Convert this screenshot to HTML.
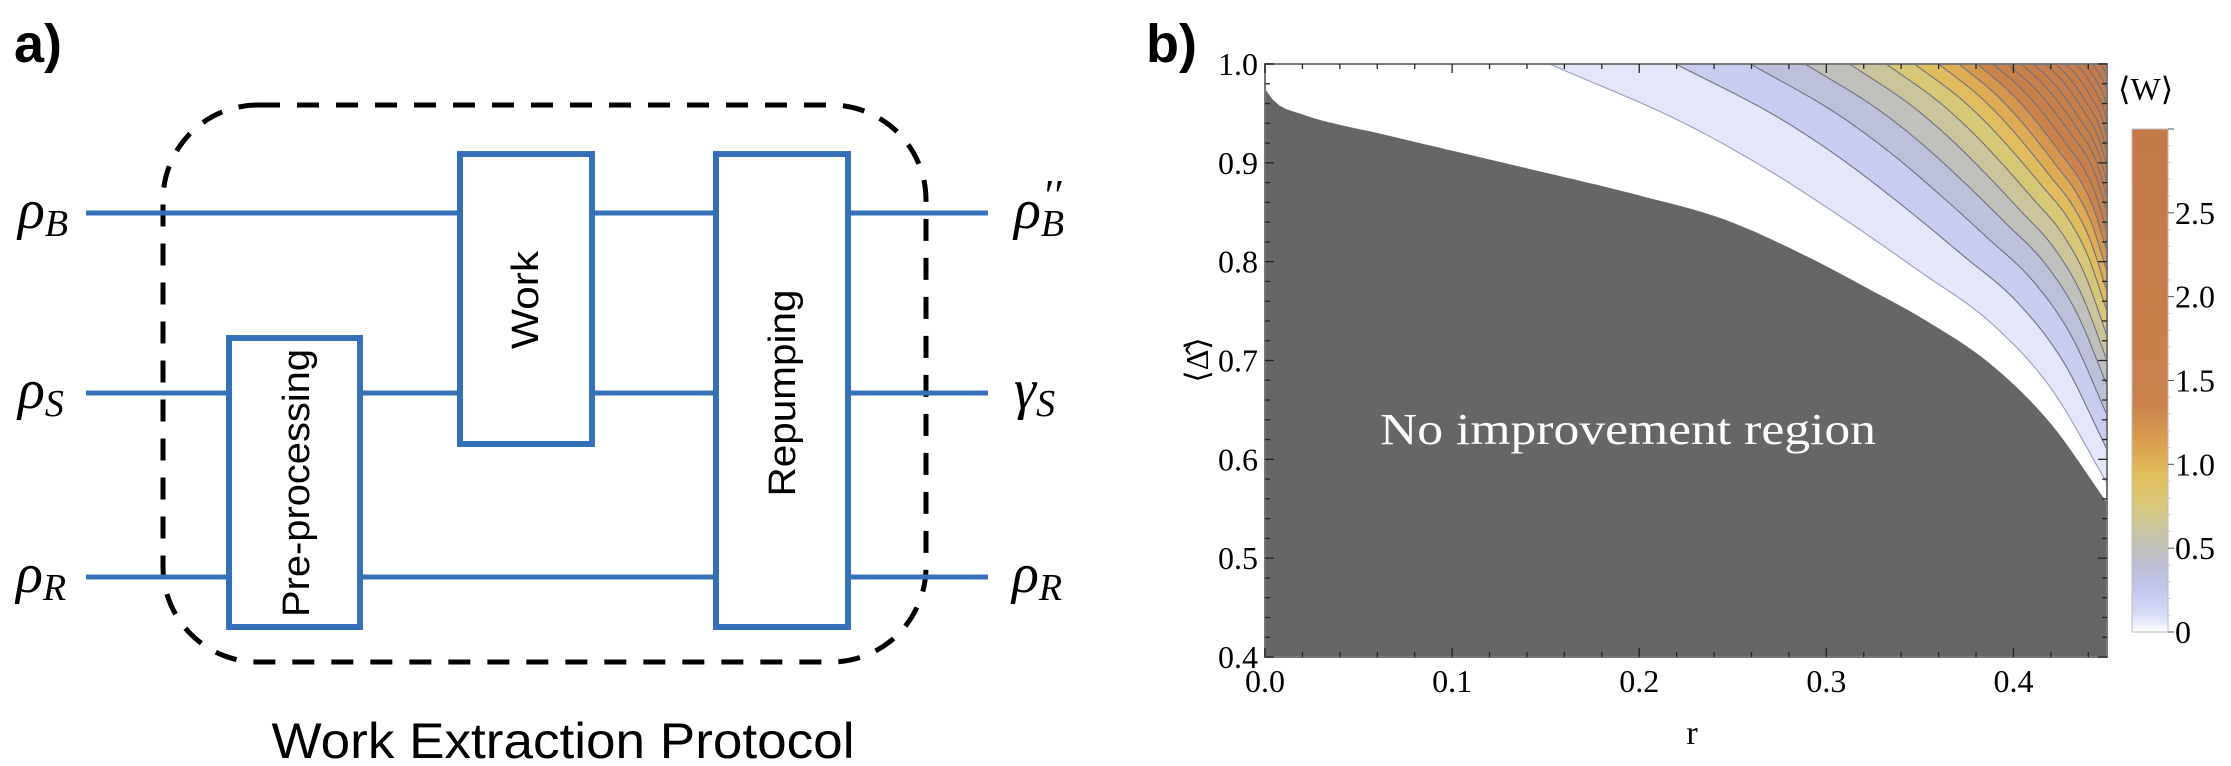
<!DOCTYPE html>
<html><head><meta charset="utf-8"><style>
html,body{margin:0;padding:0;background:#fff;}
svg{display:block;}
</style></head><body>
<svg id="root" width="2231" height="766" viewBox="0 0 2231 766" xmlns="http://www.w3.org/2000/svg">
<defs>
  <clipPath id="plotclip"><rect x="1265" y="64" width="842" height="593"/></clipPath>
  <linearGradient id="cbgrad" x1="0" y1="1" x2="0" y2="0" gradientUnits="objectBoundingBox"></linearGradient>
</defs>

<!-- Panel a -->
<g>
  <text x="14" y="62" font-family="Liberation Sans, sans-serif" font-weight="bold" font-size="54">a)</text>
  <rect x="163" y="105" width="763" height="557" rx="95" ry="95" fill="none" stroke="#000" stroke-width="5" stroke-dasharray="22 17"/>
  <g stroke="#3670b9" stroke-width="5">
    <line x1="86" y1="213" x2="460" y2="213"/>
    <line x1="592" y1="213" x2="716" y2="213"/>
    <line x1="848" y1="213" x2="988" y2="213"/>
    <line x1="86" y1="393" x2="229" y2="393"/>
    <line x1="360" y1="393" x2="460" y2="393"/>
    <line x1="592" y1="393" x2="716" y2="393"/>
    <line x1="848" y1="393" x2="988" y2="393"/>
    <line x1="86" y1="577" x2="229" y2="577"/>
    <line x1="360" y1="577" x2="716" y2="577"/>
    <line x1="848" y1="577" x2="988" y2="577"/>
  </g>
  <rect x="229" y="338" width="131" height="289" fill="#fff" stroke="#3670b9" stroke-width="6"/>
  <rect x="460" y="154" width="132" height="290" fill="#fff" stroke="#3670b9" stroke-width="6"/>
  <rect x="716" y="154" width="132" height="473" fill="#fff" stroke="#3670b9" stroke-width="6"/>
  <text transform="translate(309,483) rotate(-90)" text-anchor="middle" font-family="Liberation Sans, sans-serif" font-size="38" textLength="268" lengthAdjust="spacingAndGlyphs">Pre-processing</text>
  <text transform="translate(538,300) rotate(-90)" text-anchor="middle" font-family="Liberation Sans, sans-serif" font-size="38" textLength="98" lengthAdjust="spacingAndGlyphs">Work</text>
  <text transform="translate(795,393) rotate(-90)" text-anchor="middle" font-family="Liberation Sans, sans-serif" font-size="38" textLength="207" lengthAdjust="spacingAndGlyphs">Repumping</text>
  <g font-family="Liberation Serif, serif" font-style="italic" fill="#000">
    <text x="18" y="228" font-size="56">ρ<tspan font-size="38" dy="8">B</tspan></text>
    <text x="18" y="408" font-size="56">ρ<tspan font-size="38" dy="8">S</tspan></text>
    <text x="16" y="592" font-size="56">ρ<tspan font-size="38" dy="8">R</tspan></text>
    <text x="1014" y="228" font-size="56">ρ<tspan font-size="38" dy="8">B</tspan><tspan font-size="44" dx="-22" dy="-26">′′</tspan></text>
    <text x="1014" y="408" font-size="56">γ<tspan font-size="38" dy="8">S</tspan></text>
    <text x="1012" y="592" font-size="56">ρ<tspan font-size="38" dy="8">R</tspan></text>
  </g>
  <text x="563" y="758" text-anchor="middle" font-family="Liberation Sans, sans-serif" font-size="50" textLength="583" lengthAdjust="spacingAndGlyphs">Work Extraction Protocol</text>
</g>

<!-- Panel b -->
<g id="panelb">
  <text x="1146" y="62" font-family="Liberation Sans, sans-serif" font-weight="bold" font-size="54">b)</text>
  <rect x="1265" y="64" width="842" height="593" fill="#fff"/>
  <g id="bands" clip-path="url(#plotclip)"></g>
  <g id="lines" clip-path="url(#plotclip)"></g>
  <g id="grayregion" clip-path="url(#plotclip)"></g>
  <text x="1380" y="444" font-family="Liberation Serif, serif" font-size="44" fill="#fff" textLength="496" lengthAdjust="spacingAndGlyphs">No improvement region</text>
  <g id="axes"></g>
  <text x="1692" y="744" text-anchor="middle" font-family="Liberation Serif, serif" font-size="34">r</text>
  <text transform="translate(1208,360) rotate(-90)" text-anchor="middle" font-family="Liberation Serif, DejaVu Serif, serif" font-size="32">⟨Δ̂⟩</text>
  <g id="colorbar"></g>
  <text x="2118" y="100" font-family="Liberation Serif, DejaVu Serif, serif" font-size="32">⟨W⟩</text>
</g>
</svg>
<script>
// ---- data ----
const xTicks = [0.0, 0.1, 0.2, 0.3, 0.4];
const xTickLabels = ["0.0", "0.1", "0.2", "0.3", "0.4"];
const yTicks = [0.4, 0.5, 0.6, 0.7, 0.8, 0.9, 1.0];
const yTickLabels = ["0.4", "0.5", "0.6", "0.7", "0.8", "0.9", "1.0"];
const cbTicks = [0, 0.5, 1.0, 1.5, 2.0, 2.5];
const cbTickLabels = ["0", "0.5", "1.0", "1.5", "2.0", "2.5"];
// boundary of the no-improvement (gray) region
const grayR = [0.0, 0.005, 0.02, 0.065, 0.132, 0.2, 0.245, 0.29, 0.323, 0.35, 0.388, 0.42, 0.45];
const grayD = [0.975, 0.962, 0.949, 0.928, 0.898, 0.867, 0.843, 0.805, 0.772, 0.744, 0.696, 0.636, 0.556];
// W = 0 contour
const zeroR = [0.152, 0.222, 0.267, 0.312, 0.35, 0.388, 0.42, 0.45];
const zeroD = [1.0, 0.942, 0.895, 0.840, 0.790, 0.738, 0.672, 0.576];
// positive contours: where they meet the top edge (r) and the right edge (Δ)
const contourTopR = [0.2195, 0.2594, 0.2886, 0.3124, 0.3319, 0.347, 0.36, 0.3708, 0.3805, 0.389, 0.3967, 0.4042, 0.4107, 0.4172, 0.4226, 0.428, 0.4334, 0.4377, 0.442, 0.4464];
const contourRightD = [0.61, 0.645, 0.675, 0.70, 0.725, 0.75, 0.77, 0.79, 0.81, 0.83, 0.85, 0.865, 0.88, 0.895, 0.91, 0.925, 0.94, 0.955, 0.97, 0.985];
const contourLevels = [0.14, 0.28, 0.42, 0.56, 0.70, 0.84, 0.98, 1.12, 1.26, 1.40, 1.54, 1.68, 1.82, 1.96, 2.10, 2.24, 2.38, 2.52, 2.66, 2.80];
const cmapVals = [0, 0.1, 0.25, 0.4, 0.55, 0.75, 0.95, 1.15, 1.35, 3.0];
const cmapCols = ["#ffffff", "#d8dcf8", "#c2c6ee", "#bbbdd2", "#c4c2ae", "#d8c87c", "#e2bc58", "#d89c50", "#c9824c", "#c47a48"];

// ---- scales ----
const NS = "http://www.w3.org/2000/svg";
const X0 = 1265, X1 = 2107, Y0 = 657, Y1 = 64, RMAX = 0.45;
function xS(r) { return X0 + r / RMAX * (X1 - X0); }
function yS(d) { return Y0 - (d - 0.4) / 0.6 * (Y0 - Y1); }
const CB_TOP = 129, CB_BOT = 632, CB_MAX = 3.0, CBX = 2132, CBW = 36;
function cbY(v) { return CB_BOT - v / CB_MAX * (CB_BOT - CB_TOP); }
// monotone cubic (Fritsch-Carlson) interpolation
function interp(xs, ys, x) {
  const n = xs.length;
  if (x <= xs[0]) return ys[0];
  if (x >= xs[n-1]) return ys[n-1];
  const d = [], m = [];
  for (let i = 0; i < n - 1; i++) d.push((ys[i+1] - ys[i]) / (xs[i+1] - xs[i]));
  m.push(d[0]);
  for (let i = 1; i < n - 1; i++) m.push(d[i-1] * d[i] <= 0 ? 0 : (d[i-1] + d[i]) / 2);
  m.push(d[n-2]);
  for (let i = 0; i < n - 1; i++) {
    if (d[i] === 0) { m[i] = 0; m[i+1] = 0; continue; }
    const a = m[i] / d[i], b = m[i+1] / d[i], s = a*a + b*b;
    if (s > 9) { const t = 3 / Math.sqrt(s); m[i] = t*a*d[i]; m[i+1] = t*b*d[i]; }
  }
  let i = 0;
  while (x > xs[i+1]) i++;
  const h = xs[i+1] - xs[i], t = (x - xs[i]) / h;
  const h00 = 2*t*t*t - 3*t*t + 1, h10 = t*t*t - 2*t*t + t, h01 = -2*t*t*t + 3*t*t, h11 = t*t*t - t*t;
  return h00*ys[i] + h10*h*m[i] + h01*ys[i+1] + h11*h*m[i+1];
}
function hex(c) { return [parseInt(c.substr(1,2),16), parseInt(c.substr(3,2),16), parseInt(c.substr(5,2),16)]; }
function cmap(v) {
  for (let i = 1; i < cmapVals.length; i++) {
    if (v <= cmapVals[i]) {
      const t = (v - cmapVals[i-1]) / (cmapVals[i] - cmapVals[i-1]);
      const a = hex(cmapCols[i-1]), b = hex(cmapCols[i]);
      return "rgb(" + a.map((x, j) => Math.round(x + t * (b[j] - x))).join(",") + ")";
    }
  }
  return cmapCols[cmapCols.length - 1];
}
function mk(tag, attrs, parent) {
  const e = document.createElementNS(NS, tag);
  for (const k in attrs) e.setAttribute(k, attrs[k]);
  parent.appendChild(e);
  return e;
}
const zeroEnd = zeroD[zeroD.length - 1];
function contourPoints(k) {
  const pts = [];
  const rt = contourTopR[k], dr = contourRightD[k];
  const n = 100;
  for (let i = 0; i <= n; i++) {
    const r = rt + (RMAX - rt) * i / n;
    const rp = zeroR[0] + (r - rt) * (RMAX - zeroR[0]) / (RMAX - rt);
    const b = interp(zeroR, zeroD, rp);
    const d = 1 - (1 - b) * (1 - dr) / (1 - zeroEnd);
    pts.push([xS(r), yS(d)]);
  }
  return pts;
}
function zeroPoints() {
  const pts = [];
  const n = 100;
  for (let i = 0; i <= n; i++) {
    const r = zeroR[0] + (RMAX - zeroR[0]) * i / n;
    pts.push([xS(r), yS(interp(zeroR, zeroD, r))]);
  }
  return pts;
}
function ptsStr(p) { return p.map(q => q[0].toFixed(1) + "," + q[1].toFixed(1)).join(" "); }

// ---- bands ----
const bands = document.getElementById("bands");
const lines = document.getElementById("lines");
const allCurves = [zeroPoints()];
for (let k = 0; k < contourTopR.length; k++) allCurves.push(contourPoints(k));
const bandLevels = [0].concat(contourLevels);
for (let k = 0; k < allCurves.length; k++) {
  const lo = bandLevels[k];
  const hi = k + 1 < bandLevels.length ? bandLevels[k+1] : lo + 0.14;
  const poly = allCurves[k].concat([[xS(RMAX) + 2, yS(1.0) - 2], [allCurves[k][0][0], yS(1.0) - 2]]);
  const p = mk("polygon", { points: ptsStr(poly), fill: cmap((lo + hi) / 2) }, bands);
  
  
}
for (let k = 0; k < allCurves.length; k++) {
  const l = mk("polyline", { points: ptsStr(allCurves[k]), fill: "none", stroke: k === 0 ? "#9a9cb8" : "#6f6f80", "stroke-width": 1.1 }, lines);
  
  
}

// ---- gray region ----
const gsm = [[xS(0) - 2, yS(0.4) + 2], [xS(0) - 2, yS(grayD[0])]];
const ng = 120;
for (let i = 0; i <= ng; i++) {
  const r = RMAX * i / ng;
  gsm.push([xS(r), yS(interp(grayR, grayD, r))]);
}
gsm.push([xS(RMAX) + 2, yS(grayD[grayD.length - 1])]);
gsm.push([xS(RMAX) + 2, yS(0.4) + 2]);
const gp = mk("polygon", { points: ptsStr(gsm), fill: "#666666" }, document.getElementById("grayregion"));



// ---- axes ----
const axes = document.getElementById("axes");
const frame = mk("rect", { x: X0, y: Y1, width: X1 - X0, height: Y0 - Y1, fill: "none", stroke: "#777", "stroke-width": 2 }, axes);


for (let i = 0; i <= 22; i++) {
  const r = i * 0.02;
  const major = i % 5 === 0;
  const len = major ? 9 : 5;
  const x = xS(r);
  const t1 = mk("line", { x1: x, y1: Y0, x2: x, y2: Y0 - len, stroke: "#222", "stroke-width": 1.3 }, axes);
  
  
  const t2 = mk("line", { x1: x, y1: Y1, x2: x, y2: Y1 + len, stroke: "#222", "stroke-width": 1.3 }, axes);
  
  
}
for (let i = 0; i <= 30; i++) {
  const d = 0.4 + i * 0.02;
  const major = i % 5 === 0;
  const len = major ? 9 : 5;
  const y = yS(d);
  const t1 = mk("line", { x1: X0, y1: y, x2: X0 + len, y2: y, stroke: "#222", "stroke-width": 1.3 }, axes);
  
  
  const t2 = mk("line", { x1: X1, y1: y, x2: X1 - len, y2: y, stroke: "#222", "stroke-width": 1.3 }, axes);
  
  
}
xTicks.forEach((v, i) => {
  const t = mk("text", { x: xS(v), y: 692, "text-anchor": "middle", "font-family": "Liberation Serif, serif", "font-size": 32 }, axes);
  t.textContent = xTickLabels[i];
  
  
});
yTicks.forEach((v, i) => {
  const t = mk("text", { x: 1258, y: yS(v) + 11, "text-anchor": "end", "font-family": "Liberation Serif, serif", "font-size": 32 }, axes);
  t.textContent = yTickLabels[i];
  
  
});

// ---- colorbar ----
const grad = document.getElementById("cbgrad");
cmapVals.forEach((v, i) => {
  mk("stop", { offset: (v / CB_MAX).toFixed(4), "stop-color": cmapCols[i] }, grad);
});
const cb = document.getElementById("colorbar");
const cbr = mk("rect", { x: CBX, y: CB_TOP, width: CBW, height: CB_BOT - CB_TOP, fill: "url(#cbgrad)", stroke: "#bbb", "stroke-width": 1 }, cb);


for (let i = 0; i <= 30; i++) {
  const v = i * 0.1;
  const major = i % 5 === 0;
  const tk = mk("line", { x1: CBX + CBW, y1: cbY(v), x2: CBX + CBW + (major ? 6 : 3), y2: cbY(v), stroke: major ? "#555" : "#ccc", "stroke-width": 1 }, cb);
  
  
}
cbTicks.forEach((v, i) => {
  const t = mk("text", { x: CBX + CBW + 7, y: cbY(v) + 11, "font-family": "Liberation Serif, serif", "font-size": 32 }, cb);
  t.textContent = cbTickLabels[i];
  
  
});
</script>
</body></html>
